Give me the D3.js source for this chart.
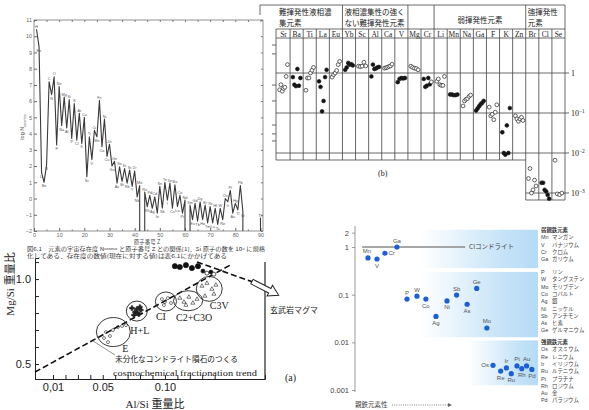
<!DOCTYPE html>
<html>
<head>
<meta charset="utf-8">
<script src="https://cdn.jsdelivr.net/npm/d3@7"></script>
<style>
  body { margin: 0; background: #fff; }
  svg { display: block; }
</style>
</head>
<body>
<div id="chart"></div>
<script>
// ---------- (1) cosmic abundance vs atomic number ----------
const symbols = ["H","He","Li","Be","B","C","N","O","F","Ne","Na","Mg","Al","Si","P","S","Cl","Ar","K","Ca",
  "Sc","Ti","V","Cr","Mn","Fe","Co","Ni","Cu","Zn","Ga","Ge","As","Se","Br","Kr","Rb","Sr","Y","Zr",
  "Nb","Mo","Tc","Ru","Rh","Pd","Ag","Cd","In","Sn","Sb","Te","I","Xe","Cs","Ba","La","Ce","Pr","Nd",
  "Pm","Sm","Eu","Gd","Tb","Dy","Ho","Er","Tm","Yb","Lu","Hf","Ta","W","Re","Os","Ir","Pt","Au","Hg",
  "Tl","Pb","Bi","Po","At","Rn","Fr","Ra","Ac","Th"];
// log N (Si = 10^6); null = no stable nuclide
const logAbundance = [10.43,9.36,1.6,1.0,2.07,7.2,6.4,7.5,3.3,6.9,4.5,6.25,4.35,6.1,3.7,5.85,3.6,5.25,3.4,5.0,
  1.35,3.8,2.4,4.2,3.8,6.05,3.2,4.9,2.6,3.35,2.0,2.3,0.95,1.95,1.05,1.85,0.95,1.75,0.75,1.7,
  0.1,0.8,null,0.4,-0.5,0.2,-0.6,0.1,-0.9,0.75,-0.6,1.0,-0.1,0.95,-0.6,0.85,-0.5,0.2,-0.9,-0.1,
  null,-0.4,-1.3,-0.3,-1.4,-0.2,-1.3,-0.4,-1.5,-0.5,-1.5,-0.6,-1.6,-0.6,-1.3,0.0,-0.2,0.5,-0.9,-0.3,
  -0.7,0.8,-0.8,null,null,null,null,null,null,-1.2];

// ---------- (b) fractionation of elements ----------
const bElements = ["Sr","Ba","Ti","La","Eu","Yb","Sc","Al","Ca","V","Mg","Cr","Li","Mn","Na","Ga","F","K","Zn","Br","Cl","Se"];
const bValues = [
  [0.38,0.51,0.35,0.41,0.44,0.82,1.62],
  [0.79,0.51,0.47,1.26,0.48,0.75],
  [0.37,0.75,0.75,1.0,1.17,1.38],
  [0.62,0.45,0.11,0.2,0.79,1.2],
  [0.79,0.91,1.0,1.15,1.62,1.95],
  [1.2,1.38,1.78,1.62,1.66,1.55],
  [1.48,1.45,1.48,1.86,1.5],
  [0.82,1.62,1.26,1.3,1.38,1.42],
  [1.32,1.35,1.4,1.45,1.5,1.66],
  [0.59,0.71,0.75,0.73,0.75],
  [1.48,1.38,1.32,1.29,1.2],
  [0.71,0.45,0.48,0.75,0.52,0.6],
  [0.62,0.71,0.51,0.49,0.49,0.82],
  [0.29,0.29,0.28,0.28,0.29],
  [0.15,0.2,0.22,0.23,0.26,0.28],
  [0.115,0.13,0.148,0.166,0.18,0.2],
  [0.14,0.085,0.093,0.068,0.105,0.16],
  [0.033,0.01,0.0091,0.049,0.01,0.133],
  [0.085,0.071,0.062,0.071,0.078,0.065],
  [0.0023,0.0041,0.001,0.0012,0.0021,0.0015],
  [0.0018,0.0018,0.0012,0.0011,0.0009,0.00072],
  [0.0066,0.00095,0.00091,0.001]
];
// 1 = filled circle, 0 = open circle
const bFilled = [
  [0,0,0,0,0,0,0],[1,1,1,1,1,1],[0,0,0,0,0,0],[1,1,1,1,1,1],[0,0,0,0,0,0],[1,1,1,1,1,1],
  [0,0,0,0,0],[1,1,1,1,1,1],[0,0,0,0,0,0],[1,1,1,1,1],[0,0,0,0,0],[1,1,1,1,1,0],
  [0,0,0,0,0,0],[1,1,1,1,1],[0,0,0,0,0,0],[1,1,1,1,1,1],[0,0,0,0,0,0],[1,1,1,1,1,1],
  [0,0,0,0,0,0],[0,0,0,0,0,0],[1,1,1,1,1,1],[0,0,0,0]
];
const bGroups = [
  ["難揮発性液相濃", "集元素"],
  ["液相濃集性の強く", "ない難揮発性元素"],
  ["", ""],
  ["弱揮発性元素", ""],
  ["強揮発性", "元素"]
];
const bGroupStart = ["Sr", "Yb", "Mg", "Li", "Br"];
const bRightTicks = [1, 0.1, 0.01, 0.001];

// ---------- (a) Mg/Si vs Al/Si ----------
const clusterNames = ["E", "H+L", "CI", "C2+C3O", "C3V"];
const clusterAl = [
  [0.051,0.0526,0.0542,0.0558,0.0582,0.0622,0.0655,0.0687],
  [0.0735,0.0759,0.0775,0.0791,0.0807,0.0751,0.0799,0.0775],
  [0.0976,0.100,0.1024,0.1049,0.0992],
  [0.112,0.1153,0.1193,0.1225,0.1258,0.1169],
  [0.1298,0.1338,0.1378,0.141,0.1394,0.1322]
];
const clusterMg = [
  [0.653,0.688,0.629,0.665,0.70,0.718,0.724,0.729],
  [0.829,0.806,0.824,0.794,0.818,0.788,0.835,0.80],
  [0.882,0.865,0.888,0.859,0.847],
  [0.888,0.865,0.894,0.859,0.882,0.847],
  [0.959,0.976,0.941,0.965,0.912,0.90]
];
const basaltAl = [0.108,0.112,0.1169,0.1217,0.1266,0.1306,0.1338,0.137,0.1394];
const basaltMg = [1.076,1.071,1.082,1.065,1.076,1.047,1.035,1.041,1.029];
const trendLine = [[-0.0045,0.453],[0.154,1.088]];
const magmaLine = [[0.1258,1.10],[0.170,0.985]];
const aXTicks = [0.01,0.02,0.03,0.04,0.05,0.06,0.07,0.08,0.09,0.10,0.11,0.12,0.13,0.14];
const aXLabels = {0.01: "0,01", 0.05: "0.05", 0.1: "0.10"};
const aYTicks = [0.5,0.6,0.7,0.8,0.9,1.0,1.1];

// ---------- siderophile depletion ----------
const sElements = ["Mn","V","Cr","Ga","P","W","Co","Ag","Ni","Sb","As","Ge","Mo","Os","Re","Ir","Ru","Pt","Rh","Au","Pd"];
const sRank = [1.56,2.5,3.33,4.58,5.63,6.67,7.6,8.65,9.8,10.8,11.9,12.9,13.96,14.6,15.4,16.0,16.5,17.1,17.6,18.1,18.65];
const sRatio = [0.59,0.56,0.74,1.0,0.081,0.093,0.081,0.035,0.074,0.098,0.063,0.135,0.020,
  0.0033,0.0025,0.0029,0.0022,0.0032,0.0028,0.0032,0.0027];
const sLabelPos = ["tl","b","r","t","t","t","b","b","b","t","b","t","t","l","b","t","b","t","b","t","b"];
const sBands = [[2.3,0.36],[0.30,0.0128],[0.011,0.00126]];
const sYTicks = [0.001,0.01,0.1,1,2];
const weakSyms = ["Mn","V","Cr","Ga"];
const weakNames = ["マンガン","バナジウム","クロム","ガリウム"];
const midSyms = ["P","W","Mo","Co","Ag","Ni","Sb","As","Ge"];
const midNames = ["リン","タングステン","モリブデン","コバルト","銀","ニッケル","アンチモン","ヒ素","ゲルマニウム"];
const strongSyms = ["Os","Re","Ir","Ru","Pt","Rh","Au","Pd"];
const strongNames = ["オスミウム","レニウム","イリジウム","ルテニウム","プラチナ","ロジウム","金","パラジウム"];

const SERIF = "'Liberation Serif','Noto Sans CJK JP',serif";
const SANS = "'Liberation Sans','Noto Sans CJK JP',sans-serif";
const JP = "'Noto Sans CJK JP',sans-serif";

const svg = d3.select("#chart").append("svg").attr("width", 589).attr("height", 410);
svg.append("rect").attr("width", 589).attr("height", 410).attr("fill", "#fff");

// ======================= panel 1 =======================
const x1 = d3.scaleLinear().domain([0, 91]).range([34, 263]);
const y1 = d3.scaleLinear().domain([-2, 11]).range([231, 20]);
const g1 = svg.append("g").attr("font-family", SANS);

function styleAxis(sel, size, color) {
  sel.select(".domain").remove();
  sel.selectAll(".tick line").attr("stroke", color);
  sel.selectAll(".tick text").attr("font-size", size).attr("fill", color).attr("font-family", null);
}
g1.append("g").attr("transform", "translate(0,231)")
  .call(d3.axisBottom(x1).tickValues(d3.range(0, 91, 10)).tickSize(-3).tickPadding(2))
  .call(s => styleAxis(s, 5.5, "#666"));
g1.append("g").attr("transform", "translate(0,231)")
  .call(d3.axisBottom(x1).tickValues(d3.range(5, 91, 10)).tickSize(-1.5).tickFormat(""))
  .call(s => styleAxis(s, 5, "#777"));
g1.append("g").attr("transform", "translate(0,20)")
  .call(d3.axisTop(x1).tickValues(d3.range(0, 91, 5)).tickSize(-2).tickFormat(""))
  .call(s => styleAxis(s, 5, "#777"));
g1.append("g").attr("transform", "translate(34,0)")
  .call(d3.axisLeft(y1).ticks(13).tickSize(-3).tickPadding(2))
  .call(s => styleAxis(s, 5.5, "#666"));
g1.append("g").attr("transform", "translate(263,0)")
  .call(d3.axisRight(y1).ticks(13).tickSize(-2).tickFormat(""))
  .call(s => styleAxis(s, 5, "#777"));
g1.append("rect").attr("x", 34).attr("y", 20).attr("width", 229).attr("height", 211)
  .attr("fill", "none").attr("stroke", "#777").attr("stroke-width", 0.8);

// curve, with vertical drops where an element has no stable nuclide
const pts = [];
logAbundance.forEach((v, i) => {
  const z = i + 1, prev = i > 0 ? logAbundance[i - 1] : 0;
  if (v === null) {
    if (prev !== null) { pts.push([z - 1, -2]); pts.push(null); }
    return;
  }
  if (prev === null) pts.push([z, -2]);
  pts.push([z, v]);
});
pts.push([90, -2]);
const line1 = d3.line().defined(d => d !== null).x(d => x1(d[0])).y(d => y1(d[1]));
g1.append("path").attr("d", line1(pts)).attr("fill", "none").attr("stroke", "#3a3a3a")
  .attr("stroke-width", 1.1).attr("stroke-linejoin", "round");

g1.append("g").selectAll("text")
  .data(logAbundance.map((v, i) => ({ z: i + 1, v, s: symbols[i] })).filter(d => d.v !== null))
  .join("text")
  .attr("x", d => x1(d.z))
  .attr("y", d => {
    const a = logAbundance[d.z - 2], b = logAbundance[d.z];
    const peak = (a == null || d.v >= a) && (b == null || d.v >= b);
    return y1(d.v) + (peak ? -1.5 : 5);
  })
  .attr("text-anchor", "middle").attr("font-size", 3.8).attr("fill", "#555")
  .text(d => d.s);

g1.append("text").attr("transform", "translate(24,127) rotate(-90)")
  .attr("text-anchor", "middle").attr("font-size", 5.5).attr("fill", "#555")
  .call(t => {
    t.append("tspan").text("log N");
    t.append("tspan").attr("font-size", 4).attr("dy", 1.5).text("cosmic");
  });
g1.append("text").attr("x", 147).attr("y", 244).attr("text-anchor", "middle")
  .attr("font-family", JP).attr("font-size", 5.5).attr("fill", "#444").text("原子番号 Z");

const cap = g1.append("g").attr("font-family", JP).attr("fill", "#333").attr("font-size", 5.2);
cap.append("text").attr("x", 27).attr("y", 251).attr("textLength", 238).attr("lengthAdjust", "spacingAndGlyphs")
  .text("図6.1　元素の宇宙存在度 Nᶜᵒˢᵐᶦᶜ と原子番号 Z との関係[1]．Si 原子の数を 10⁶ に規格");
cap.append("text").attr("x", 27).attr("y", 258).attr("textLength", 200).attr("lengthAdjust", "spacingAndGlyphs")
  .text("化してある．存在度の数値(現在に対する値)は表6.1にかかげてある");

// ======================= panel (b) =======================
const x2 = d3.scaleBand().domain(bElements).range([277, 565]);
const y2 = d3.scaleLog().domain([1e-3, 1]).range([193, 73]);
const g2 = svg.append("g").attr("stroke", "#444").attr("stroke-width", 0.8);
const L = (x1_, y1_, x2_, y2_) => g2.append("line").attr("x1", x1_).attr("y1", y1_).attr("x2", x2_).attr("y2", y2_);
const xBr = x2("Br");
L(260, 5, 565, 5); L(260, 5, 260, 15);
L(276, 29, 565, 29); L(276, 38, 565, 38);
L(276, 29, 276, 160);
L(565, 5, 565, 200);
bGroupStart.slice(1).forEach(e => L(x2(e), 5, x2(e), 29));
bElements.slice(1).forEach((e, i) => L(x2(e), 29, x2(e), i + 1 >= 19 ? 200 : 160));
[1, 0.1, 0.01].forEach(v => L(276, y2(v), 569, y2(v)));
L(276, 160, xBr, 160); L(xBr, y2(0.001), 569, y2(0.001)); L(xBr, 200, 565, 200);
[5, 3, 0.5, 0.2, 0.05, 0.03, 0.02].forEach(v => L(272, y2(v), 276, y2(v)));

const hdr = svg.append("g").attr("font-family", SERIF).attr("fill", "#222");
bGroups.forEach((lines, i) => {
  const x0 = x2(bGroupStart[i]);
  const x1e = i < bGroups.length - 1 ? x2(bGroupStart[i + 1]) : 565;
  if (i === 3) {
    hdr.append("text").attr("x", (x0 + x1e) / 2).attr("y", 23).attr("text-anchor", "middle")
      .attr("font-size", 7.5).text(lines[0]);
  } else {
    lines.forEach((s, k) => hdr.append("text").attr("x", x0 + 2).attr("y", 15 + k * 10.5)
      .attr("font-size", 7.5).text(s));
  }
});
hdr.selectAll(".el").data(bElements).join("text").attr("class", "el")
  .attr("x", d => x2(d) + x2.bandwidth() / 2).attr("y", 36.5).attr("text-anchor", "middle")
  .attr("font-size", 7.5).text(d => d);
hdr.append("text").attr("x", 378).attr("y", 176).attr("font-size", 8).text("(b)");
bRightTicks.forEach((v, i) => {
  const t = hdr.append("text").attr("x", 571).attr("y", y2(v) + 3).attr("font-size", 8);
  if (i === 0) t.text("1");
  else { t.append("tspan").text("10"); t.append("tspan").attr("dy", -3).attr("font-size", 5.5).text("−" + i); }
});

const ptsB = [];
bElements.forEach((e, i) => {
  const n = bValues[i].length;
  bValues[i].forEach((v, j) => ptsB.push({
    x: x2(e) + 2 + (x2.bandwidth() - 4) * (j + 0.5) / n, v, f: bFilled[i][j]
  }));
});
svg.append("g").selectAll("circle").data(ptsB).join("circle")
  .attr("cx", d => d.x).attr("cy", d => y2(d.v)).attr("r", 1.9)
  .attr("fill", d => d.f ? "#111" : "#fff").attr("stroke", "#222").attr("stroke-width", 0.7);

// ======================= panel (a) =======================
const x3 = d3.scaleLinear().domain([-0.0045, 0.1805]).range([35, 265]);
const y3 = d3.scaleLinear().domain([0.412, 1.124]).range([379, 258]);
const g3 = svg.append("g").attr("font-family", SERIF);
g3.append("g").attr("transform", "translate(0,379)")
  .call(d3.axisBottom(x3).tickValues(aXTicks).tickSize(-4).tickPadding(4)
    .tickFormat(d => aXLabels[Math.round(d * 100) / 100] || ""))
  .call(s => { s.select(".domain").attr("stroke", "#222"); s.selectAll("line").attr("stroke", "#222");
    s.selectAll("text").attr("font-size", 11).attr("fill", "#222").attr("font-family", null); });
g3.append("g").attr("transform", "translate(35,0)")
  .call(d3.axisLeft(y3).tickValues(aYTicks).tickSize(-4).tickPadding(4)
    .tickFormat(d => (Math.abs(d - 0.5) < 1e-9 || Math.abs(d - 1) < 1e-9) ? d.toFixed(1) : ""))
  .call(s => { s.select(".domain").attr("stroke", "#222"); s.selectAll("line").attr("stroke", "#222");
    s.selectAll("text").attr("font-size", 11).attr("fill", "#222").attr("font-family", null); });
g3.append("line").attr("x1", 265).attr("x2", 265).attr("y1", 262).attr("y2", 379)
  .attr("stroke", "#222").attr("stroke-width", 1.2);

const line3 = d3.line().x(d => x3(d[0])).y(d => y3(d[1]));
g3.append("path").attr("d", line3(trendLine)).attr("fill", "none").attr("stroke", "#111")
  .attr("stroke-width", 1.6).attr("stroke-dasharray", "6,3");
g3.append("path").attr("d", line3(magmaLine)).attr("fill", "none").attr("stroke", "#111")
  .attr("stroke-width", 1.6).attr("stroke-dasharray", "6,3");
const mEnd = magmaLine[1];
g3.append("path")
  .attr("transform", `translate(${x3(mEnd[0])},${y3(mEnd[1])}) rotate(27)`)
  .attr("d", "M0,-2.5L20,-2.5L20,-6L30,0L20,6L20,2.5L0,2.5Z")
  .attr("fill", "#fff").attr("stroke", "#222").attr("stroke-width", 1);
g3.append("text").attr("x", 270).attr("y", 313).attr("font-family", JP).attr("font-size", 8)
  .attr("fill", "#222").text("玄武岩マグマ");

const symTypes = [d3.symbolCircle, d3.symbolCross, d3.symbolCircle, d3.symbolTriangle, d3.symbolTriangle];
const labelOff = [[12, 20], [3, 23], [-5, 19], [6, 20], [10, 20]];
clusterNames.forEach((name, i) => {
  const xs = clusterAl[i].map(x3), ys = clusterMg[i].map(y3);
  const cx = d3.mean(xs), cy = d3.mean(ys);
  const rx = (d3.max(xs) - d3.min(xs)) / 2 + 6, ry = (d3.max(ys) - d3.min(ys)) / 2 + 6;
  g3.append("ellipse").attr("cx", cx).attr("cy", cy).attr("rx", rx).attr("ry", ry)
    .attr("fill", "none").attr("stroke", "#222").attr("stroke-width", 0.9);
  g3.append("g").selectAll("path").data(xs).join("path")
    .attr("transform", (d, j) => `translate(${d},${ys[j]})`)
    .attr("d", d3.symbol().type(symTypes[i]).size(i === 1 ? 12 : 7))
    .attr("fill", i === 1 ? "#222" : "none").attr("stroke", "#222").attr("stroke-width", 0.6);
  g3.append("text").attr("x", cx + labelOff[i][0]).attr("y", cy + labelOff[i][1])
    .attr("text-anchor", "middle").attr("font-size", 10).attr("fill", "#222").text(name);
});
g3.append("g").selectAll("circle").data(basaltAl).join("circle")
  .attr("cx", d => x3(d)).attr("cy", (d, i) => y3(basaltMg[i])).attr("r", (d, i) => i < 5 ? 2.6 : 2)
  .attr("fill", (d, i) => i < 5 || i % 2 ? "#111" : "#fff").attr("stroke", "#111").attr("stroke-width", 0.7);

g3.append("line").attr("x1", 93).attr("y1", 341).attr("x2", 115).attr("y2", 355)
  .attr("stroke", "#777").attr("stroke-width", 0.8);
g3.append("text").attr("x", 115).attr("y", 362).attr("font-family", JP).attr("font-size", 8)
  .attr("textLength", 123).attr("lengthAdjust", "spacingAndGlyphs").attr("fill", "#222")
  .text("未分化なコンドライト隕石のつくる");
g3.append("text").attr("x", 113).attr("y", 376).attr("font-size", 8.5)
  .attr("textLength", 144).attr("lengthAdjust", "spacingAndGlyphs").attr("fill", "#222")
  .text("cosmochemical fractionation trend");
g3.append("text").attr("x", 155).attr("y", 408).attr("text-anchor", "middle").attr("font-size", 11)
  .attr("fill", "#222").text("Al/Si 重量比");
g3.append("text").attr("transform", "translate(14,284) rotate(-90)").attr("text-anchor", "middle")
  .attr("font-size", 11).attr("fill", "#222").text("Mg/Si 重量比");
g3.append("text").attr("x", 285).attr("y", 381).attr("font-size", 10).attr("fill", "#222").text("(a)");

// ======================= siderophile panel =======================
const x4 = d3.scaleLinear().domain([0, 19.5]).range([353, 540]);
const y4 = d3.scaleLog().domain([0.001, 1]).range([390, 247]);
const g4 = svg.append("g").attr("font-family", SANS);
const grad = svg.append("defs").append("linearGradient").attr("id", "bandGrad");
grad.append("stop").attr("offset", "0%").attr("stop-color", "#c4e2f7").attr("stop-opacity", 0);
grad.append("stop").attr("offset", "70%").attr("stop-color", "#bfe0f7").attr("stop-opacity", 0.9);
grad.append("stop").attr("offset", "100%").attr("stop-color", "#b5dbf5").attr("stop-opacity", 1);
const bandX0 = [7.0, 7.0, 12.0];
sBands.forEach((b, i) => {
  g4.append("rect").attr("x", x4(bandX0[i])).attr("width", 538 - x4(bandX0[i]))
    .attr("y", y4(b[0])).attr("height", y4(b[1]) - y4(b[0])).attr("fill", "url(#bandGrad)");
});
g4.append("g").attr("transform", "translate(355,0)")
  .call(d3.axisLeft(y4).tickValues(sYTicks).tickSize(3).tickPadding(3)
    .tickFormat(d => d >= 1 ? String(d) : d3.format("")(d)))
  .call(s => { s.select(".domain").attr("stroke", "#999").attr("d", "M0,226V392");
    s.selectAll("line").attr("stroke", "#999");
    s.selectAll("text").attr("font-size", 7.5).attr("fill", "#444").attr("font-family", null); });

g4.append("line").attr("x1", x4(0.95)).attr("x2", x4(11.7)).attr("y1", y4(1)).attr("y2", y4(1))
  .attr("stroke", "#8a8a8a").attr("stroke-width", 1.6);
g4.append("text").attr("x", x4(12.1)).attr("y", y4(1) + 2.3).attr("font-size", 6.5)
  .attr("fill", "#444").attr("font-family", JP).text("CIコンドライト");

g4.append("g").selectAll("circle").data(sElements).join("circle")
  .attr("cx", (d, i) => x4(sRank[i])).attr("cy", (d, i) => y4(sRatio[i])).attr("r", 2.6)
  .attr("fill", "#1b5fd8");
const off = { t: [0, -4.5, "middle"], b: [0, 8.5, "middle"], l: [-4, 2.2, "end"], r: [3.5, 2.2, "start"], tl: [-1, -4.5, "middle"] };
g4.append("g").selectAll("text").data(sElements).join("text")
  .attr("x", (d, i) => x4(sRank[i]) + off[sLabelPos[i]][0])
  .attr("y", (d, i) => y4(sRatio[i]) + off[sLabelPos[i]][1])
  .attr("text-anchor", (d, i) => off[sLabelPos[i]][2])
  .attr("font-size", 6).attr("fill", "#555").text(d => d);

const leg = g4.append("g").attr("font-size", 5.4).attr("fill", "#444");
function legendGroup(y0, header, syms, names) {
  let y = y0;
  if (header) {
    leg.append("text").attr("x", 541).attr("y", y).attr("font-family", JP).attr("font-weight", "bold")
      .attr("fill", "#333").text(header);
    y += 7.3;
  }
  syms.forEach((s, i) => {
    leg.append("text").attr("x", 541).attr("y", y + i * 7.3).text(s);
    leg.append("text").attr("x", 552).attr("y", y + i * 7.3).attr("font-family", JP).text(names[i]);
  });
}
legendGroup(232, "弱親鉄元素", weakSyms, weakNames);
legendGroup(274, null, midSyms, midNames);
legendGroup(344, "強親鉄元素", strongSyms, strongNames);

g4.append("text").attr("x", 355).attr("y", 407).attr("font-family", JP).attr("font-size", 6.5)
  .attr("fill", "#444").text("親鉄元素性");
g4.append("line").attr("x1", 392).attr("x2", 448).attr("y1", 405).attr("y2", 405)
  .attr("stroke", "#666").attr("stroke-width", 0.8).attr("stroke-dasharray", "1,1.2");
g4.append("path").attr("d", "M448,403L452,405L448,407Z").attr("fill", "#666");
</script>
</body>
</html>
